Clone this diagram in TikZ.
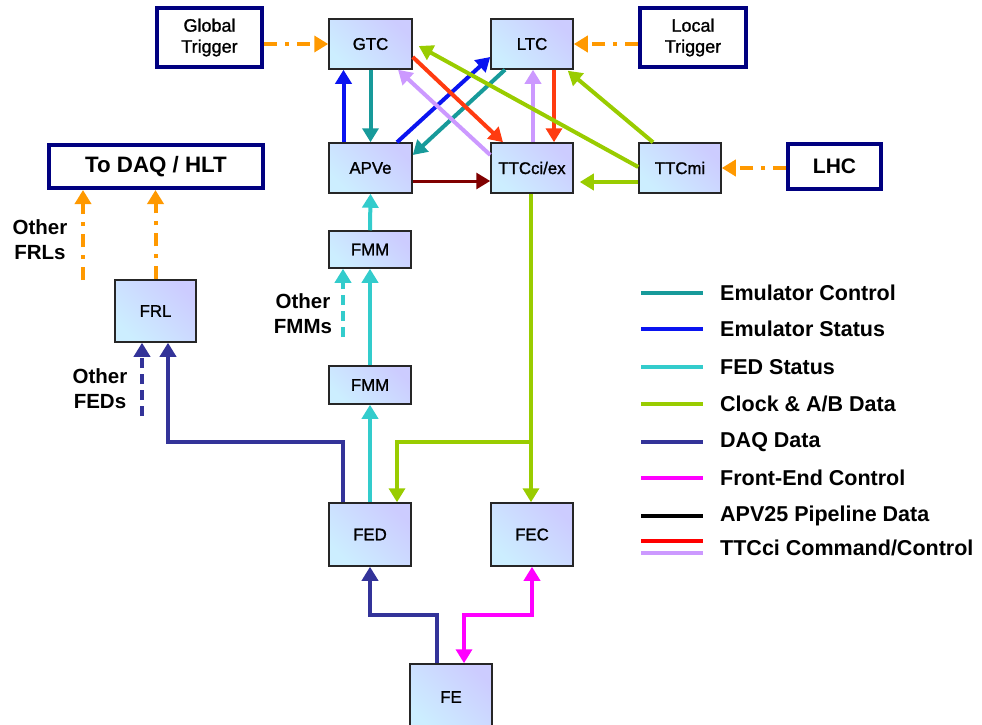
\documentclass[tikz,border=0pt]{standalone}
\usepackage{fontspec}
\setmainfont{Liberation Sans}
\newfontfamily\boxfont[FakeBold=1.2]{Liberation Sans}
\usetikzlibrary{arrows.meta}
\definecolor{emuc}{HTML}{179A9A}
\definecolor{emus}{HTML}{0A14F0}
\definecolor{feds}{HTML}{33CCCC}
\definecolor{clk}{HTML}{99CC00}
\definecolor{daqc}{HTML}{333399}
\definecolor{fec}{HTML}{FF00FF}
\definecolor{ttcr}{HTML}{FF3B10}
\definecolor{ttcl}{HTML}{CC99FF}
\definecolor{maroon}{HTML}{800000}
\definecolor{orng}{HTML}{FF9900}
\definecolor{navy}{HTML}{000080}
\definecolor{boxa}{HTML}{CCEEFF}
\definecolor{boxb}{HTML}{CCCCFF}
\begin{document}
\begin{tikzpicture}[x=1pt,y=-1pt,
  box/.style={draw=black!85, line width=1.5pt, bottom color=boxa, top color=boxb, shading angle=-45,
    inner sep=0pt, font=\boxfont\fontsize{16.8}{20}\selectfont},
  outer/.style={draw=navy, line width=4pt, fill=white, inner sep=0pt, align=center},
  conn/.style={line width=4pt, -{Triangle[length=14pt,width=16pt]}},
  trig/.style={conn, orng, dash pattern=on 13pt off 8pt on 4pt off 8pt},
  lbl/.style={font=\bfseries\fontsize{20.5}{25}\selectfont, align=center, inner sep=0pt},
  leg/.style={font=\bfseries\fontsize{21.5}{22}\selectfont, anchor=west, inner sep=0pt},
  legline/.style={line width=4pt}]
\useasboundingbox (0,0) rectangle (982,725);
% outer boxes
\node[outer, minimum width=105pt, minimum height=59pt, font=\boxfont\fontsize{18}{21}\selectfont] (gt) at (209.5,37.5) {Global\\Trigger};
\node[outer, minimum width=106pt, minimum height=59pt, font=\boxfont\fontsize{18}{21}\selectfont] (lt) at (693,37.5) {Local\\Trigger};
\node[outer, minimum width=93pt, minimum height=45pt, font=\bfseries\fontsize{21}{24}\selectfont] (lhc) at (834.5,166.5) {LHC};
\node[outer, minimum width=214pt, minimum height=43pt, font=\bfseries\fontsize{22.3}{24}\selectfont] (daq) at (156,166.5) {To DAQ / HLT};
% inner boxes
\node[box, minimum width=83pt, minimum height=50pt] (gtc) at (370.5,44) {GTC};
\node[box, minimum width=82pt, minimum height=50pt] (ltc) at (532,44) {LTC};
\node[box, minimum width=83pt, minimum height=50pt] (apve) at (370.5,168) {APVe};
\node[box, minimum width=82pt, minimum height=50pt] (ttcci) at (532,168) {TTCci/ex};
\node[box, minimum width=82pt, minimum height=50pt] (ttcmi) at (680,168) {TTCmi};
\node[box, minimum width=81pt, minimum height=62pt] (frl) at (155.5,311) {FRL};
\node[box, minimum width=82pt, minimum height=37pt] (fmma) at (370,249.5) {FMM};
\node[box, minimum width=82pt, minimum height=38pt] (fmmb) at (370,385) {FMM};
\node[box, minimum width=82pt, minimum height=63pt] (fed) at (370,534.5) {FED};
\node[box, minimum width=82pt, minimum height=63pt] (fecb) at (532,534.5) {FEC};
\node[box, minimum width=82pt, minimum height=66pt] (fe) at (451,697) {FE};
% trigger arrows
\draw[trig] (gt.east |- gtc.west) -- (gtc.west);
\draw[trig] (lt.west |- ltc.east) -- (ltc.east);
\draw[trig] (lhc.west |- ttcmi.east) -- (ttcmi.east);
\draw[trig] (frl.north) -- (frl.north |- daq.south);
\coordinate (ofrl) at (83,280);
\draw[trig] (ofrl) -- (ofrl |- daq.south);
% emulator
\draw[conn, emuc] (gtc.south) -- (apve.north);
\draw[conn, emus] ([xshift=-27pt]apve.north) -- ([xshift=-27pt]gtc.south);
\draw[conn, emus] ([xshift=26.5pt]apve.north) -- ([yshift=-13pt]ltc.west);
\draw[conn, emuc] ([xshift=-27pt]ltc.south) -- ([yshift=13pt]apve.east);
% TTCci command/control
\draw[conn, ttcr] ([yshift=-13pt]gtc.east) -- ([xshift=-29pt]ttcci.north);
\draw[conn, ttcl] ([yshift=13pt]ttcci.west) -- ([xshift=27.5pt]gtc.south);
\draw[conn, ttcl] ([xshift=1pt]ttcci.north) -- ([xshift=1pt]ltc.south);
\draw[conn, ttcr] ([xshift=22pt]ltc.south) -- ([xshift=22pt]ttcci.north);
% clock
\draw[conn, clk] ([yshift=1pt]ttcmi.west) -- ([xshift=6pt,yshift=-2pt]gtc.east);
\draw[conn, clk] ([xshift=-27pt]ttcmi.north) -- ([xshift=-6pt,yshift=-1pt]ltc.south east);
\draw[conn, clk] ([yshift=-14pt]ttcmi.west) -- ([xshift=6pt,yshift=-14pt]ttcci.east);
\draw[conn, maroon, line width=3pt] ([yshift=-13pt]apve.east) -- ([yshift=-13pt]ttcci.west);
\draw[conn, clk] ([xshift=-1pt]ttcci.south) -- ([xshift=-1pt]fecb.north);
\coordinate (br) at (531,442);
\draw[conn, clk] (br) -| ([xshift=27pt]fed.north);
% FED status
\draw[conn, feds] (fed.north) -- (fmmb.south);
\draw[conn, feds] (fmmb.north) -- (fmma.south);
\draw[conn, feds] (fmma.north) -- (apve.south);
\coordinate (ofmm) at (343,337);
\draw[conn, feds, dash pattern=on 10pt off 6pt] (ofmm) -- (ofmm |- fmma.south);
% DAQ data
\coordinate (dj) at (168,442);
\draw[conn, daqc] ([xshift=-27pt]fed.north) |- (dj) -- (dj |- frl.south);
\coordinate (ofed) at (142,416);
\draw[conn, daqc, dash pattern=on 10pt off 6pt] (ofed) -- (ofed |- frl.south);
\coordinate (fj) at (370,615);
\draw[conn, daqc] ([xshift=-14pt]fe.north) |- (fj) -- (fed.south);
\coordinate (mj) at (532,615);
\draw[line width=4pt, fec, {Triangle[length=14pt,width=16pt]}-{Triangle[length=14pt,width=16pt]}] ([xshift=13pt]fe.north) |- (mj) -- (fecb.south);
% labels
\node[lbl] (tfrl) at (40,240) {Other\\FRLs};
\node[lbl] (tfmm) at (303,314) {Other\\FMMs};
\node[lbl] (tfed) at (100,389) {Other\\FEDs};
% legend
\draw[legline, emuc] (641,293) -- (703,293);
\node[leg] (l1) at (720,293) {Emulator Control};
\draw[legline, emus] (641,329) -- (703,329);
\node[leg] (l2) at (720,329) {Emulator Status};
\draw[legline, feds] (641,367) -- (703,367);
\node[leg] (l3) at (720,367) {FED Status};
\draw[legline, clk] (641,404) -- (703,404);
\node[leg] (l4) at (720,404) {Clock \& A/B Data};
\draw[legline, daqc] (641,442) -- (703,442);
\node[leg] (l5) at (720,442) {DAQ Data};
\draw[legline, fec] (641,478) -- (703,478);
\node[leg] (l6) at (720,478) {Front-End Control};
\draw[legline, black] (641,516) -- (703,516);
\node[leg] (l7) at (720,516) {APV25 Pipeline Data};
\draw[legline, red] (641,541) -- (703,541);
\draw[legline, ttcl] (641,553) -- (703,553);
\node[leg] (l8) at (720,548) {TTCci Command/Control};
\end{tikzpicture}
\end{document}
